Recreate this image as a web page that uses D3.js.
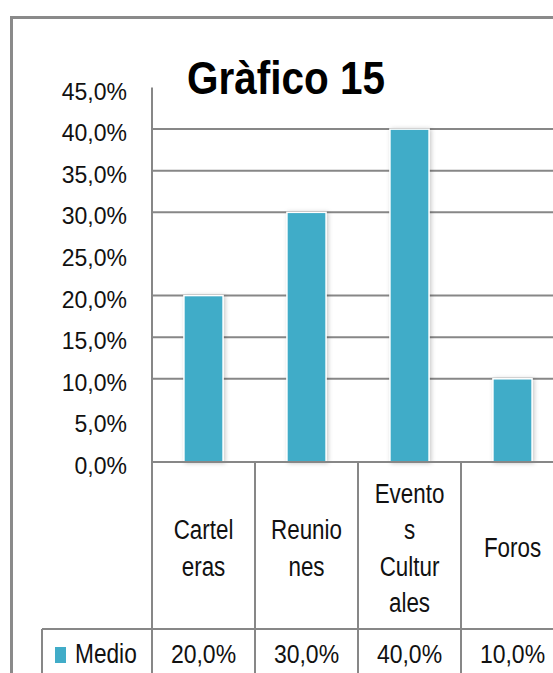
<!DOCTYPE html>
<html>
<head>
<meta charset="utf-8">
<script src="https://cdn.jsdelivr.net/npm/d3@7"></script>
<style>
  body { margin: 0; background: #fff; }
  svg { display: block; }
</style>
</head>
<body>
<div id="chart"></div>
<script>
// data
const title = "Gràfico 15";
const seriesName = "Medio";
const categories = ["Carteleras", "Reuniones", "Eventos Culturales", "Foros"];
const categoryLines = [["Cartel", "eras"], ["Reunio", "nes"], ["Evento", "s", "Cultur", "ales"], ["Foros"]];
const values = [20, 30, 40, 10];
const yTicks = [0, 5, 10, 15, 20, 25, 30, 35, 40, 45];
const gridTicks = [10, 15, 20, 30, 35, 40];

const W = 553, H = 673;
const plotLeft = 152, plotTop = 87.5, plotBottom = 462, cell = 103;
const rowY = 629, legendLeft = 42;
const lineColor = "#878787", barColor = "#41acc8";
const font = "'Liberation Sans', Arial, sans-serif";
const squeeze = 0.8;   // original text is narrower than Arial

const locale = d3.formatLocale({decimal: ",", thousands: ".", grouping: [3], currency: ["", ""]});
const pct = v => locale.format(".1f")(v) + "%";

const svg = d3.select("#chart").append("svg")
    .attr("width", W)
    .attr("height", H);

const defs = svg.append("defs");
const filt = defs.append("filter").attr("id", "shadow")
    .attr("x", "-30%").attr("y", "-10%").attr("width", "160%").attr("height", "120%");
filt.append("feDropShadow")
    .attr("dx", 1.5).attr("dy", 0.5)
    .attr("stdDeviation", 2)
    .attr("flood-color", "#000")
    .attr("flood-opacity", 0.22);

// scales
let x = d3.scaleBand()
    .domain(categories)
    .range([plotLeft, plotLeft + cell * categories.length])
    .padding(0);

let y = d3.scaleLinear()
    .domain([0, 45])
    .range([plotBottom, plotTop]);

const barW = x.bandwidth() * 0.38;

// outer frame (cut by the window on right/bottom)
svg.append("path")
    .attr("d", `M11.5,${H + 5}V17.5H${W + 5}`)
    .attr("fill", "none")
    .attr("stroke", "#8a8a8a")
    .attr("stroke-width", 3);

// gridlines
svg.append("g").selectAll("line")
    .data(gridTicks)
    .enter().append("line")
    .attr("x1", plotLeft)
    .attr("x2", W + 5)
    .attr("y1", d => y(d))
    .attr("y2", d => y(d))
    .attr("stroke", lineColor)
    .attr("stroke-width", 2);

// y axis labels
let yAxis = d3.axisLeft(y)
    .tickValues(yTicks)
    .tickSize(0)
    .tickPadding(25)
    .tickFormat(pct);

let gy = svg.append("g")
    .attr("transform", "translate(" + plotLeft + ",0)")
    .call(yAxis);
gy.select(".domain").remove();
gy.selectAll("text")
    .attr("dy", "0.5em")
    .style("font", "23px " + font)
    .style("fill", "#111");

// bars
svg.append("g").selectAll("rect")
    .data(values)
    .enter().append("rect")
    .attr("x", (d, i) => x(categories[i]) + x.bandwidth() / 2 - barW / 2)
    .attr("y", d => y(d))
    .attr("width", barW)
    .attr("height", d => y(0) - y(d))
    .attr("fill", barColor)
    .attr("stroke", "#fff")
    .attr("stroke-width", 1.5)
    .attr("filter", "url(#shadow)");

// axis lines + data table grid
const grid = svg.append("g")
    .attr("stroke", lineColor)
    .attr("stroke-width", 2);

grid.append("line")   // vertical axis
    .attr("x1", plotLeft).attr("x2", plotLeft)
    .attr("y1", plotTop).attr("y2", H + 5);

grid.append("line")   // category axis
    .attr("x1", plotLeft).attr("x2", W + 5)
    .attr("y1", plotBottom).attr("y2", plotBottom);

grid.append("line")   // table row
    .attr("x1", legendLeft).attr("x2", W + 5)
    .attr("y1", rowY).attr("y2", rowY);

grid.append("line")   // legend cell left
    .attr("x1", legendLeft).attr("x2", legendLeft)
    .attr("y1", rowY).attr("y2", H + 5);

grid.selectAll(".sep")
    .data(categories)
    .enter().append("line")
    .attr("class", "sep")
    .attr("x1", d => x(d) + x.bandwidth())
    .attr("x2", d => x(d) + x.bandwidth())
    .attr("y1", plotBottom).attr("y2", H + 5);

// category labels (wrapped like the original)
const lineH = 36.5, midY = 557.5;
let cats = svg.append("g").selectAll("text")
    .data(categories)
    .enter().append("text")
    .attr("text-anchor", "middle")
    .attr("transform", d => "translate(" + (x(d) + x.bandwidth() / 2) + ",0) scale(" + squeeze + ",1)")
    .style("font", "28px " + font)
    .style("fill", "#111");

cats.each(function(d, i) {
    const lines = categoryLines[i];
    const y0 = midY - (lines.length - 1) * lineH / 2;
    d3.select(this).selectAll("tspan")
        .data(lines)
        .enter().append("tspan")
        .attr("x", 0)
        .attr("y", (t, j) => y0 + j * lineH)
        .text(t => t);
});

// data row
svg.append("rect")
    .attr("x", 55)
    .attr("y", 647)
    .attr("width", 11)
    .attr("height", 16)
    .attr("fill", barColor);

svg.append("text")
    .attr("transform", "translate(75,0) scale(0.84,1)")
    .attr("y", 663)
    .style("font", "27px " + font)
    .style("fill", "#111")
    .text(seriesName);

svg.append("g").selectAll("text")
    .data(values)
    .enter().append("text")
    .attr("transform", (d, i) => "translate(" + (x(categories[i]) + x.bandwidth() / 2) + ",0) scale(0.92,1)")
    .attr("y", 663)
    .attr("text-anchor", "middle")
    .style("font", "25px " + font)
    .style("fill", "#111")
    .text(d => pct(d));

// title
svg.append("text")
    .attr("x", 187)
    .attr("y", 94)
    .attr("textLength", 198)
    .attr("lengthAdjust", "spacingAndGlyphs")
    .style("font", "bold 46px " + font)
    .style("fill", "#000")
    .text(title);
</script>
</body>
</html>
